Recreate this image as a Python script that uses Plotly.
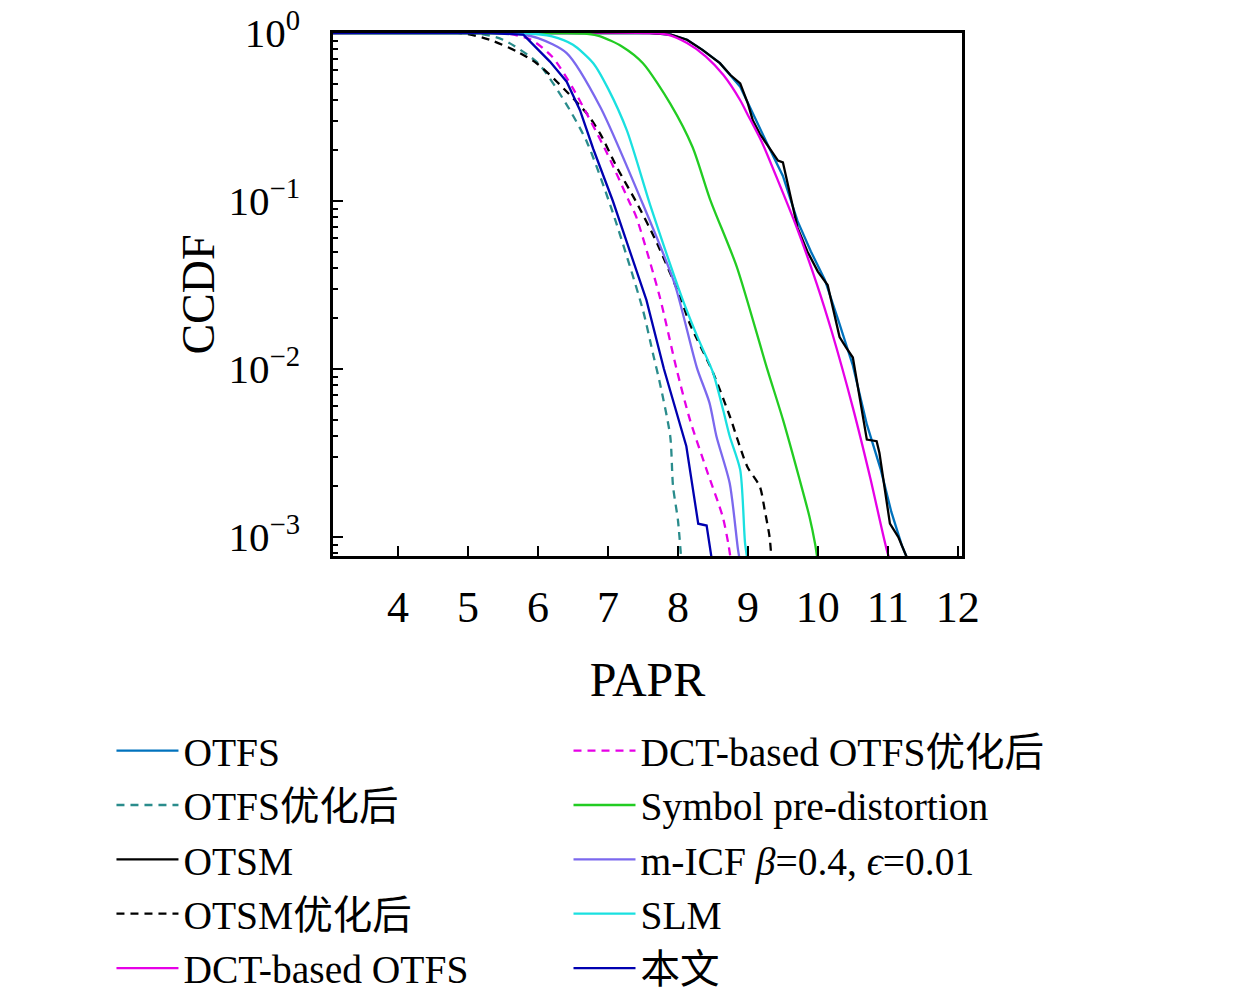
import plotly.graph_objects as go

# ---------------- data ----------------
otfs_x = [3, 7.6, 7.9, 8.13, 8.35, 8.6, 8.89, 9.07, 9.3, 9.5, 9.71, 9.9, 10.1, 10.3, 10.5, 10.7, 10.9, 11.05, 11.2, 11.3]
otfs_y = [1, 1, 0.977, 0.912, 0.794, 0.661, 0.479, 0.331, 0.209, 0.141, 0.0759, 0.0501, 0.0339, 0.0191, 0.0105, 0.00468, 0.00251, 0.00141, 0.000891, 0.000708]

otfs_opt_x = [3, 5.1, 5.5, 6.0, 6.4, 6.7, 7.07, 7.5, 7.65, 7.74, 7.89, 7.93, 8.0, 8.05]
otfs_opt_y = [1, 1, 0.912, 0.661, 0.380, 0.224, 0.0851, 0.0224, 0.0120, 0.00832, 0.00398, 0.00200, 0.00126, 0.000708]

otsm_x = [3, 7.6, 7.9, 8.13, 8.35, 8.6, 8.75, 8.89, 9.0, 9.07, 9.17, 9.3, 9.43, 9.5, 9.6, 9.71, 9.85, 10.0, 10.14,
          10.31, 10.4, 10.5, 10.7, 10.84, 10.88, 11.03, 11.15, 11.3]
otsm_y = [1, 1, 0.977, 0.912, 0.794, 0.661, 0.562, 0.501, 0.380, 0.302, 0.251, 0.209, 0.174, 0.170, 0.112, 0.0692,
          0.0501, 0.0380, 0.0316, 0.0155, 0.0135, 0.0117, 0.00380, 0.00372, 0.00316, 0.00120, 0.00100, 0.000708]

otsm_opt_x = [3, 4.9, 5.31, 5.7, 5.98, 6.27, 6.7, 6.89, 7.13, 7.41, 7.7, 8.03, 8.17, 8.5, 8.74, 8.99, 9.17, 9.24, 9.31, 9.34]
otsm_opt_y = [1, 1, 0.912, 0.776, 0.661, 0.513, 0.331, 0.251, 0.158, 0.0977, 0.0562, 0.0269, 0.0186, 0.00955,
              0.00525, 0.00263, 0.00200, 0.00145, 0.00100, 0.000708]

dct_x = [3, 7.5, 7.85, 8.13, 8.4, 8.65, 8.89, 8.99, 9.2, 9.45, 9.7, 9.99, 10.2, 10.5, 10.75, 11.0, 11.05]
dct_y = [1, 1, 0.977, 0.871, 0.724, 0.562, 0.398, 0.331, 0.224, 0.126, 0.0692, 0.0316, 0.0166, 0.00589, 0.00224,
         0.000794, 0.000708]

dct_opt_x = [3, 5.5, 5.9, 6.2, 6.5, 6.98, 7.31, 7.4, 7.74, 7.98, 8.17, 8.41, 8.64, 8.72, 8.76]
dct_opt_y = [1, 1, 0.912, 0.724, 0.468, 0.195, 0.0977, 0.0813, 0.0269, 0.0100, 0.00501, 0.00251, 0.00132, 0.000912, 0.000708]

spd_x = [3, 6.4, 6.7, 6.89, 7.2, 7.5, 7.89, 8.21, 8.46, 8.84, 9.27, 9.5, 9.74, 9.88, 9.96, 10.0]
spd_y = [1, 1, 0.989, 0.955, 0.832, 0.661, 0.380, 0.209, 0.102, 0.0407, 0.0102, 0.00501, 0.00219, 0.00132, 0.000912, 0.000708]

micf_x = [3, 5.6, 6.0, 6.41, 6.89, 7.48, 7.95, 8.27, 8.45, 8.55, 8.74, 8.86, 8.89]
micf_y = [1, 1, 0.933, 0.759, 0.363, 0.100, 0.0324, 0.0102, 0.00631, 0.00398, 0.00209, 0.000832, 0.000708]

slm_x = [3, 5.8, 6.2, 6.5, 6.79, 7.0, 7.27, 7.6, 7.85, 8.07, 8.3, 8.5, 8.65, 8.74, 8.89, 8.96, 9.0]
slm_y = [1, 1, 0.955, 0.851, 0.661, 0.468, 0.263, 0.0955, 0.0468, 0.0257, 0.0148, 0.00955, 0.00562, 0.00398,
         0.00251, 0.000912, 0.000708]

prop_x = [3, 5.3, 5.79, 6.17, 6.41, 6.6, 6.79, 7.07, 7.55, 7.8, 8.12, 8.29, 8.41, 8.49]
prop_y = [1, 1, 0.977, 0.676, 0.513, 0.347, 0.204, 0.100, 0.0257, 0.0100, 0.00347, 0.00120, 0.00117, 0.000708]

x_ticks = [4, 5, 6, 7, 8, 9, 10, 11, 12]
y_ticks = [1, 0.1, 0.01, 0.001]
y_ticktext = ["10<sup>0</sup>", "10<sup>−1</sup>", "10<sup>−2</sup>", "10<sup>−3</sup>"]

# name, x, y, colour, dash, legend, smooth
series = [
    ("OTFS", otfs_x, otfs_y, "#0072BD", "solid", "legend", False),
    ("OTFS优化后", otfs_opt_x, otfs_opt_y, "#2A8C8C", "dash", "legend", True),
    ("OTSM", otsm_x, otsm_y, "#000000", "solid", "legend", False),
    ("OTSM优化后", otsm_opt_x, otsm_opt_y, "#000000", "dash", "legend", True),
    ("DCT-based OTFS", dct_x, dct_y, "#E600E6", "solid", "legend", True),
    ("DCT-based OTFS优化后", dct_opt_x, dct_opt_y, "#E600E6", "dash", "legend2", True),
    ("Symbol pre-distortion", spd_x, spd_y, "#22CC22", "solid", "legend2", True),
    ("m-ICF <i>β</i>=0.4, <i>ϵ</i>=0.01", micf_x, micf_y, "#7B68EE", "solid", "legend2", True),
    ("SLM", slm_x, slm_y, "#1AE0E0", "solid", "legend2", True),
    ("本文", prop_x, prop_y, "#0000B0", "solid", "legend2", False),
]

FONT = "Liberation Serif, Noto Sans CJK SC, serif"

fig = go.Figure()
for name, xs, ys, color, dash, lg, smooth in series:
    line = dict(color=color, width=2.3, dash=("8px,6px" if dash == "dash" else "solid"))
    if smooth:
        line.update(shape="spline", smoothing=0.7)
    fig.add_trace(go.Scatter(x=xs, y=ys, mode="lines", name=name, legend=lg, line=line))

minor_vals = [m * 10 ** e for e in range(-4, 0) for m in range(2, 10)]

fig.update_layout(
    width=1260, height=994,
    margin=dict(l=333, r=298, t=33, b=438, autoexpand=False),
    paper_bgcolor="white", plot_bgcolor="white",
    font=dict(family=FONT, size=40, color="black"),
    xaxis=dict(
        range=[3.07, 12.06], tickmode="array", tickvals=x_ticks,
        ticks="inside", ticklen=10, tickwidth=2, tickcolor="black",
        showline=True, linecolor="black", linewidth=2.5, mirror=True,
        showgrid=False, zeroline=False, automargin=False,
        tickfont=dict(size=44), ticklabelstandoff=10,
        title=dict(text="PAPR", font=dict(size=48), standoff=32),
    ),
    yaxis=dict(
        type="log", range=[-3.113, 0], tickmode="array", tickvals=y_ticks, ticktext=y_ticktext,
        ticks="inside", ticklen=10, tickwidth=2, tickcolor="black",
        minor=dict(tickmode="array", tickvals=minor_vals, ticks="inside", ticklen=5, tickwidth=1.5,
                   tickcolor="black", showgrid=False),
        showline=True, linecolor="black", linewidth=2.5, mirror=True,
        showgrid=False, zeroline=False, automargin=False,
        tickfont=dict(size=41), ticklabelstandoff=22,
        title=dict(text="CCDF", font=dict(size=46), standoff=0),
    ),
    legend=dict(x=-0.3522, y=-0.3107, xanchor="left", yanchor="top", bgcolor="rgba(0,0,0,0)",
                font=dict(size=39.5), tracegroupgap=0, itemwidth=62),
    legend2=dict(x=0.3744, y=-0.3107, xanchor="left", yanchor="top", bgcolor="rgba(0,0,0,0)",
                 font=dict(size=39.5), tracegroupgap=0, itemwidth=62),
)

fig.write_html("out.html", config={"displayModeBar": False},
               post_script="document.body.style.margin='0';")
